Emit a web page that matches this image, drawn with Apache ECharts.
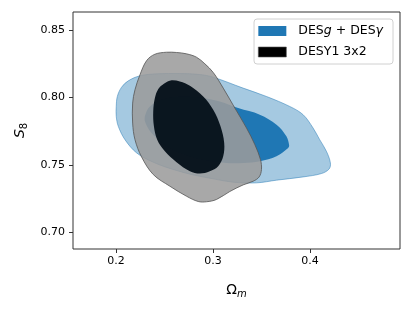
<!DOCTYPE html>
<html><head><meta charset="utf-8">
<script src="https://cdn.jsdelivr.net/npm/echarts@6/dist/echarts.min.js"></script>
<style>html,body{margin:0;padding:0;background:#fff}#c{width:413px;height:310px}</style>
</head><body><div id="c"></div>
<script>
// axis ticks
const xTicks = [0.2, 0.3, 0.4];
const yTicks = [0.70, 0.75, 0.80, 0.85];
const seriesNames = ['DESg + DESγ', 'DESY1 3x2'];

// contour outlines, [Omega_m, S8]
const desgOuter = [[0.2003,0.7933],[0.2014,0.8007],[0.2058,0.8076],[0.2127,0.8123],[0.2247,0.8160],[0.2419,0.8175],[0.2659,0.8177],[0.2864,0.8170],[0.3002,0.8150],[0.3310,0.8069],[0.3551,0.8007],[0.3791,0.7933],[0.3928,0.7872],[0.4031,0.7773],[0.4099,0.7687],[0.4168,0.7601],[0.4209,0.7515],[0.4196,0.7470],[0.4117,0.7436],[0.3928,0.7411],[0.3654,0.7387],[0.3448,0.7367],[0.3208,0.7372],[0.3002,0.7397],[0.2796,0.7426],[0.2590,0.7466],[0.2384,0.7520],[0.2213,0.7589],[0.2093,0.7687],[0.2024,0.7786],[0.2003,0.7860]];
const desgInner = [[0.2298,0.7860],[0.2350,0.7933],[0.2487,0.7988],[0.2659,0.8007],[0.2864,0.8000],[0.3070,0.7970],[0.3259,0.7921],[0.3482,0.7872],[0.3654,0.7798],[0.3756,0.7712],[0.3784,0.7645],[0.3774,0.7626],[0.3654,0.7564],[0.3482,0.7527],[0.3310,0.7515],[0.3139,0.7515],[0.2933,0.7532],[0.2727,0.7569],[0.2521,0.7638],[0.2367,0.7736],[0.2305,0.7810]];
const desy1Outer = [[0.2316,0.8273],[0.2401,0.8320],[0.2521,0.8335],[0.2624,0.8333],[0.2727,0.8323],[0.2830,0.8298],[0.2916,0.8249],[0.3002,0.8185],[0.3105,0.8069],[0.3225,0.7921],[0.3345,0.7773],[0.3431,0.7650],[0.3489,0.7539],[0.3499,0.7466],[0.3475,0.7411],[0.3413,0.7379],[0.3310,0.7352],[0.3173,0.7303],[0.3036,0.7244],[0.2933,0.7227],[0.2847,0.7229],[0.2727,0.7268],[0.2556,0.7342],[0.2384,0.7429],[0.2264,0.7559],[0.2196,0.7687],[0.2172,0.7810],[0.2172,0.7958],[0.2196,0.8057],[0.2247,0.8167]];
const desy1Inner = [[0.2401,0.7995],[0.2436,0.8062],[0.2494,0.8101],[0.2563,0.8126],[0.2659,0.8118],[0.2762,0.8086],[0.2899,0.8007],[0.3002,0.7909],[0.3077,0.7786],[0.3115,0.7663],[0.3105,0.7564],[0.3053,0.7490],[0.2967,0.7453],[0.2864,0.7436],[0.2762,0.7453],[0.2624,0.7520],[0.2504,0.7601],[0.2425,0.7687],[0.2391,0.7786],[0.2384,0.7897]];

const chart = echarts.init(document.getElementById('c'), null, {renderer: 'canvas'});

function makeRender(layers) {
  return function (params, api) {
    return {
      type: 'group',
      children: layers.map(L => ({
        type: 'polygon',
        shape: { points: L.pts.map(p => api.coord(p)), smooth: 0.35 },
        style: { fill: L.fill, stroke: L.stroke, lineWidth: L.lw }
      }))
    };
  };
}

const fontFam = 'DejaVu Sans';
chart.setOption({
  animation: false,
  grid: { left: 73, right: 13, top: 12, bottom: 61, show: true, borderColor: '#333', borderWidth: 1, backgroundColor: 'transparent' },
  xAxis: {
    type: 'value', min: 0.15575, max: 0.4926,
    splitLine: { show: false },
    axisLine: { show: false },
    axisTick: { show: true, inside: false, length: 4, customValues: xTicks, lineStyle: { color: '#333' } },
    axisLabel: { customValues: xTicks, margin: 7, color: '#000', fontFamily: fontFam, fontSize: 11, formatter: v => v.toFixed(1) },
    name: '{b|Ω}{m|m}', nameLocation: 'middle', nameGap: 34,
    nameTextStyle: { fontFamily: fontFam, color: '#000', rich: {
      b: { fontFamily: fontFam, fontSize: 14, lineHeight: 15, verticalAlign: 'top', color: '#000' },
      m: { fontFamily: fontFam, fontSize: 10, fontStyle: 'italic', lineHeight: 11, padding: [6, 0, 0, 0], verticalAlign: 'top', color: '#000' }
    } }
  },
  yAxis: {
    type: 'value', min: 0.6877, max: 0.8633,
    splitLine: { show: false },
    axisLine: { show: false },
    axisTick: { show: true, inside: false, length: 4, customValues: yTicks, lineStyle: { color: '#333' } },
    axisLabel: { customValues: yTicks, margin: 8, color: '#000', fontFamily: fontFam, fontSize: 11, formatter: v => v.toFixed(2) },
    name: '{s|S}{n|8}', nameLocation: 'middle', nameGap: 44, nameRotate: 90,
    nameTextStyle: { fontFamily: fontFam, color: '#000', rich: {
      s: { fontFamily: fontFam, fontSize: 14, fontStyle: 'italic', lineHeight: 15, verticalAlign: 'top', color: '#000' },
      n: { fontFamily: fontFam, fontSize: 10, lineHeight: 11, padding: [6, 0, 0, 0], verticalAlign: 'top', color: '#000' }
    } }
  },
  legend: {
    orient: 'vertical', right: 20, top: 19,
    padding: [5, 10, 5, 4], itemGap: 7, itemWidth: 28, itemHeight: 10,
    borderColor: '#d0d0d0', borderWidth: 1, borderRadius: 3, backgroundColor: '#fff',
    data: [
      { name: seriesNames[0], icon: 'rect', itemStyle: { color: '#1f77b4', borderWidth: 0 } },
      { name: seriesNames[1], icon: 'rect', itemStyle: { color: '#000', borderColor: '#555', borderWidth: 0.6 } }
    ],
    formatter: n => n === seriesNames[0] ? 'DES{i|g} + DES{i|γ}' : n,
    textStyle: { fontFamily: fontFam, fontSize: 12.5, color: '#000', lineHeight: 14, padding: [0, 0, 0, 7],
      rich: { i: { fontFamily: fontFam, fontSize: 12.5, fontStyle: 'italic', color: '#000' } } }
  },
  series: [
    { name: seriesNames[0], type: 'custom', data: [[0.3, 0.78]], itemStyle: { color: '#1f77b4' },
      renderItem: makeRender([
        { pts: desgOuter, fill: 'rgba(31,119,180,0.4)', stroke: 'rgba(31,119,180,0.6)', lw: 0.8 },
        { pts: desgInner, fill: 'rgba(31,119,180,1)', stroke: null, lw: 0 }
      ]) },
    { name: seriesNames[1], type: 'custom', data: [[0.28, 0.78]], itemStyle: { color: '#000' },
      renderItem: makeRender([
        { pts: desy1Outer, fill: 'rgba(155,155,155,0.87)', stroke: '#555', lw: 0.8 },
        { pts: desy1Inner, fill: 'rgba(0,12,22,0.93)', stroke: null, lw: 0 }
      ]) }
  ]
});
</script></body></html>
